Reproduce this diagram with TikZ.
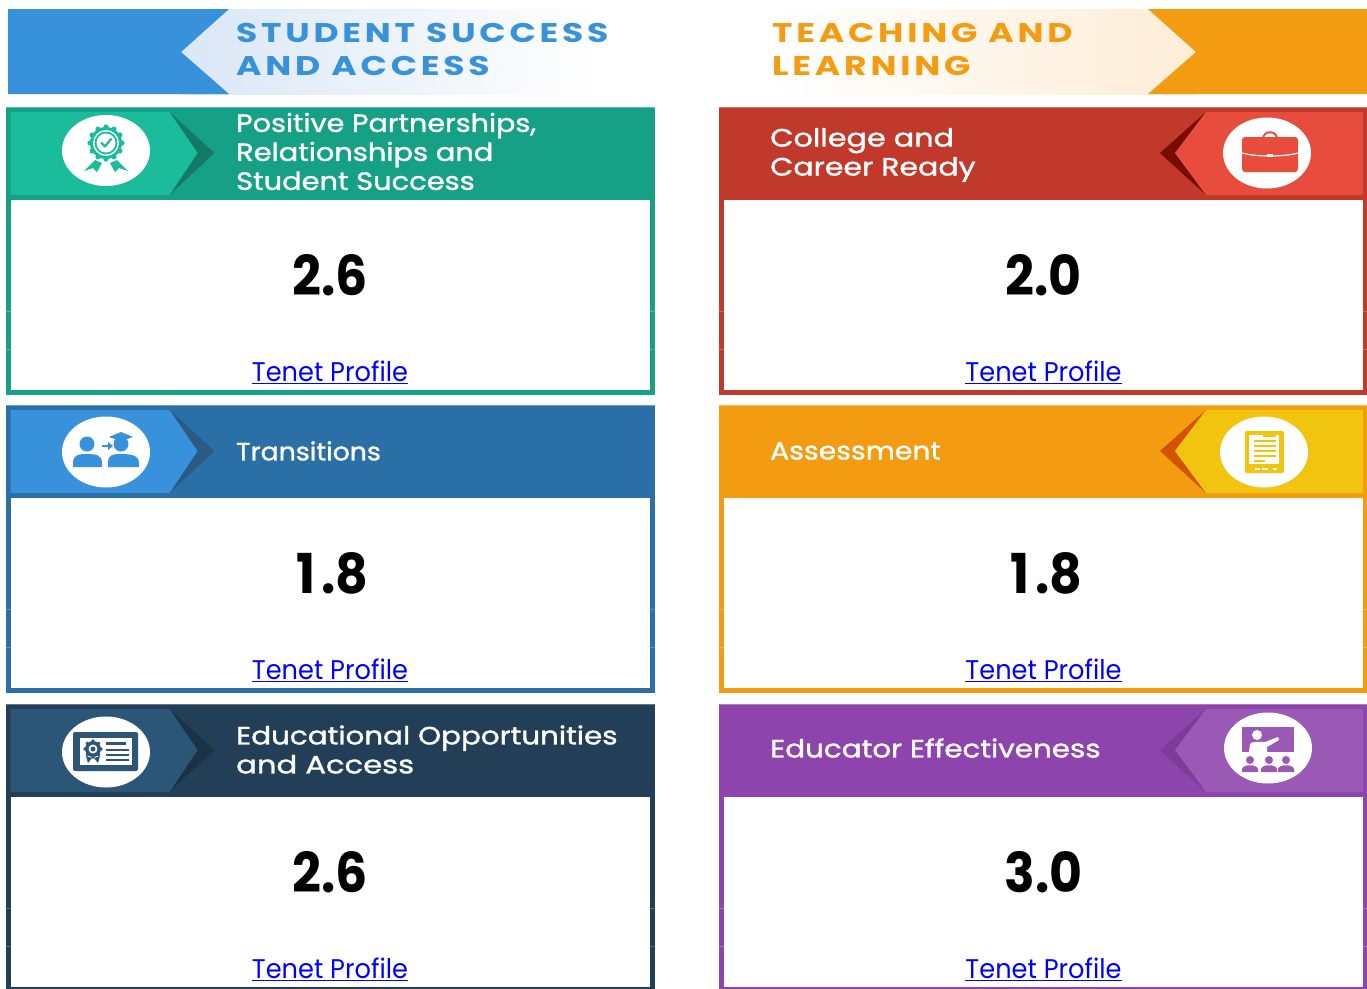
\documentclass[tikz,border=0pt]{standalone}
\usepackage{graphicx}
\usepackage{fontspec}
\setmainfont{Poppins}
\newfontfamily\bannerfont[LetterSpace=14,FakeStretch=1.28]{Poppins}
\newfontfamily\headfont[FakeBold=1.2]{Poppins}
\usetikzlibrary{shapes.geometric,calc}
\definecolor{gD}{HTML}{16A085}\definecolor{gL}{HTML}{1ABC9C}\definecolor{gS}{HTML}{127A65}
\definecolor{bD}{HTML}{2A6FA5}\definecolor{bL}{HTML}{3792DB}\definecolor{bS}{HTML}{2B5A85}
\definecolor{nD}{HTML}{223F57}\definecolor{nL}{HTML}{2C5677}\definecolor{nS}{HTML}{1B3246}
\definecolor{rD}{HTML}{C0392B}\definecolor{rL}{HTML}{E74C3C}\definecolor{rS}{HTML}{780C02}
\definecolor{oD}{HTML}{F39C12}\definecolor{oL}{HTML}{F1C40F}\definecolor{oS}{HTML}{D35400}
\definecolor{pD}{HTML}{8E44AD}\definecolor{pL}{HTML}{9B59B6}\definecolor{pS}{HTML}{7D3C98}
\definecolor{linkblue}{HTML}{0000FF}
\definecolor{bannerB}{HTML}{DAE7F6}
\definecolor{bannerO}{HTML}{FDEDD6}
\newcommand\hs[2]{\scalebox{#1}[1]{#2}}
\tikzset{
  headtext/.style={anchor=west,inner sep=0pt,text=white,align=left,font=\fontsize{25}{29}\selectfont\headfont},
  scoretext/.style={inner sep=0pt,text=black,font=\fontsize{55}{60}\selectfont\bfseries},
  linktext/.style={inner sep=0pt,text=linkblue,font=\fontsize{27}{30}\selectfont},
  bannertext/.style={anchor=west,inner sep=0pt,align=left,font=\fontsize{27}{32.5}\selectfont\bannerfont\bfseries},
  badge/.style={ellipse,fill=white,draw=none,minimum width=88pt,minimum height=71pt,inner sep=0pt}
}
% name, x0, y0, dark colour, score
\newcommand\cardbody[5]{%
  \fill[#4] (#2,#3) rectangle ++(649,288);
  \fill[white] ({#2+5},{#3+93}) rectangle ({#2+644},{#3+283});
  \fill[white,opacity=.25] (#2,{#3+204}) rectangle ++(5,.7);
  \fill[white,opacity=.25] (#2,{#3+242}) rectangle ++(5,.7);
  \fill[white,opacity=.25] ({#2+644},{#3+204}) rectangle ++(5,.7);
  \fill[white,opacity=.25] ({#2+644},{#3+242}) rectangle ++(5,.7);
  \fill[white,opacity=.3] (#2,#3) rectangle ++(649,.8);
  \node[scoretext] (#1score) at ({#2+324.5},{#3+168.5}) {\hs{.92}{#5}};
  \node[linktext] (#1link) at ({#2+324.5},{#3+265}) {\hs{.95}{\underline{Tenet Profile}}};
}
% left tag: x0,y0, light, shadow
\newcommand\lefttag[4]{%
  \fill[#4] ({#1+164},{#2+5}) -- ({#1+209},{#2+46}) -- ({#1+164},{#2+88}) -- ({#1+192},{#2+46}) -- cycle;
  \fill[#3] ({#1+5},{#2+5}) -- ({#1+164},{#2+5}) -- ({#1+192},{#2+46}) -- ({#1+164},{#2+88}) -- ({#1+5},{#2+88}) -- cycle;
}
% right tag
\newcommand\righttag[4]{%
  \fill[#4] ({#1+487},{#2+5}) -- ({#1+441},{#2+46}) -- ({#1+487},{#2+88}) -- ({#1+456},{#2+46}) -- cycle;
  \fill[#3] ({#1+644},{#2+5}) -- ({#1+487},{#2+5}) -- ({#1+456},{#2+46}) -- ({#1+487},{#2+88}) -- ({#1+644},{#2+88}) -- cycle;
}
\begin{document}
\begin{tikzpicture}[x=1pt,y=-1pt]
\useasboundingbox (0,0) rectangle (1367,988);
\clip (0,0) rectangle (1367,988);
\fill[white] (0,0) rectangle (1367,988);

% banners
\shade[left color=bannerB,right color=white] (181,9) rectangle (600,94);
\fill[bL] (8,9) -- (229,9) -- (181,52) -- (229,94) -- (8,94) -- cycle;
\node[bannertext,text=bL] (bannerL) at (236,49.5) {STUDENT SUCCESS\\AND ACCESS};
\shade[left color=white,right color=bannerO] (770,9) rectangle (1196,94);
\fill[oD] (1367,9) -- (1148,9) -- (1196,52) -- (1148,94) -- (1367,94) -- cycle;
\node[bannertext,text=oD] (bannerR) at (772,49.5) {TEACHING AND\\LEARNING};

% cards
\cardbody{pp}{5.5}{107}{gD}{2.6}
\cardbody{tr}{5.5}{405}{bD}{\kern6pt 1\kern6pt.8}
\cardbody{eo}{5.5}{704}{nD}{2.6}
\cardbody{cc}{719}{107}{rD}{2.0}
\cardbody{as}{719}{405}{oD}{\kern6pt 1\kern6pt.8}
\cardbody{ee}{719}{704}{pD}{3.0}

\lefttag{5.5}{107}{gL}{gS}
\lefttag{5.5}{405}{bL}{bS}
\lefttag{5.5}{704}{nL}{nS}
\righttag{719}{107}{rL}{rS}
\righttag{719}{405}{oL}{oS}
\righttag{719}{704}{pL}{pS}

% header texts
\node[headtext] (ppT) at (236,151.5) {\hs{1.145}{Positive Partnerships,}\\\hs{1.155}{Relationships and}\\\hs{1.155}{Student Success}};
\node[headtext] (trT) at (236,451) {\hs{1.07}{Transitions}};
\node[headtext] (eoT) at (236,749.5) {\hs{1.175}{Educational Opportunities}\\\hs{1.225}{and Access}};
\node[headtext] (ccT) at (770,155) {\hs{1.21}{College and}\\\hs{1.2}{Career Ready}};
\node[headtext] (asT) at (770,451) {\hs{1.13}{Assessment}};
\node[headtext] (eeT) at (770,748) {\hs{1.175}{Educator Effectiveness}};

% badges
\node[badge] (ppB) at (106,150.5) {};
\node[badge] (trB) at (106,452) {};
\node[badge] (eoB) at (106,752) {};
\node[badge] (ccB) at (1267,153) {};
\node[badge] (asB) at (1264,452) {};
\node[badge] (eeB) at (1268,748) {};

% rosette icon
\begin{scope}[shift={(106,143)}]
  \foreach \a in {0,30,...,330} \fill[gL] (\a:16) circle (2.6);
  \fill[gL] (0,0) circle (16);
  \fill[white] (0,0) circle (13);
  \fill[gL] (0,0) circle (11.5);
  \fill[white] (0,0) circle (9.5);
  \draw[gL,line width=2.2,line cap=round,line join=round] (-4.5,0) -- (-1,3.5) -- (5,-4);
  \fill[gL] (-11,17) -- (-4,20) -- (-9,29) -- (-13,25) -- (-22,28) -- cycle;
  \fill[gL] (11,17) -- (4,20) -- (9,29) -- (13,25) -- (22,28) -- cycle;
\end{scope}

% students icon
\begin{scope}[shift={(106,452)}]
  \fill[bL] (-19,-8) circle (7.5);
  \fill[bL] (-33,15) -- (-33,11) .. controls (-33,2) and (-26,2) .. (-19,2) .. controls (-10,2) and (-4,3) .. (-4,11) -- (-4,15) -- cycle;
  \fill[bL] (15,-8) circle (7.5);
  \fill[bL] (2,15) -- (2,11) .. controls (2,2) and (8,2) .. (15,2) .. controls (24,2) and (33,3) .. (33,11) -- (33,15) -- cycle;
  \fill[bL] (3,-15) -- (15,-20) -- (27,-15) -- (15,-11) -- cycle;
  \fill[bL] (-4,-7) rectangle (3,-5);
  \fill[bL] (2,-10) -- (7,-6) -- (2,-2) -- cycle;
\end{scope}

% card icon
\begin{scope}[shift={(106,752)}]
  \fill[nL,rounded corners=2pt] (-33,-20) rectangle (32,19);
  \fill[white] (-26,-14) rectangle (26,13);
  \foreach \a in {0,45,...,315} \fill[nL] ($(-13,-3)+(\a:8)$) circle (1.8);
  \fill[nL] (-13,-3) circle (8);
  \fill[white] (-13,-3) circle (4.5);
  \fill[nL] (-13,-3) circle (2.5);
  \fill[nL] (-20,4) -- (-14,6) -- (-18,11) -- cycle;
  \fill[nL] (-6,4) -- (-12,6) -- (-8,11) -- cycle;
  \fill[nL] (0,-10) rectangle (20,-7);
  \fill[nL] (0,-3) rectangle (23,-1.5);
  \fill[nL] (0,2) rectangle (23,3.5);
  \fill[nL] (0,7) rectangle (23,8.5);
\end{scope}

% briefcase icon
\begin{scope}[shift={(1270,153)}]
  \draw[rL,line width=2] (-7,-14) .. controls (-7,-23) and (7,-23) .. (7,-14);
  \fill[rL,rounded corners=3pt] (-28,-16) rectangle (28,19);
  \draw[white,line width=1.2] (-28,0) .. controls (-14,4) and (14,4) .. (28,0);
  \fill[white] (-3,1) rectangle (3,4);
\end{scope}

% tablet icon
\begin{scope}[shift={(1264,452)}]
  \fill[oL,rounded corners=2pt] (-19,-21) rectangle (20,21);
  \fill[white] (-15,-17) rectangle (15,12);
  \foreach \yy in {-12,-7,-2,3} \fill[oL] (-10,\yy) rectangle (12,{\yy+2});
  \fill[oL] (-1,-17) rectangle (12,-15);
  \fill[oL] (-10,8) rectangle (1,10);
  \fill[white] (-9,16) rectangle (-4,18);
  \fill[white] (-2,16) rectangle (4,18);
  \fill[white] (9,16) rectangle (13,18);
\end{scope}

% teacher icon
\begin{scope}[shift={(1268,748)}]
  \fill[pL] (-26,-21) rectangle (26,4);
  \fill[white] (-11,-13) circle (5);
  \fill[white] (-19,4) -- (-18,-4) .. controls (-17,-7) and (-8,-6) .. (-3,-6) -- (10,-11) -- (11,-8) -- (-1,-1) -- (-1,4) -- cycle;
  \foreach \xx in {-18,1,18} {
    \fill[pL] (\xx,12) circle (4);
    \fill[pL] ({\xx-8},24) -- ({\xx-8},21) .. controls ({\xx-7},16) and ({\xx+7},16) .. ({\xx+8},21) -- ({\xx+8},24) -- cycle;
  }
\end{scope}
\end{tikzpicture}
\end{document}
